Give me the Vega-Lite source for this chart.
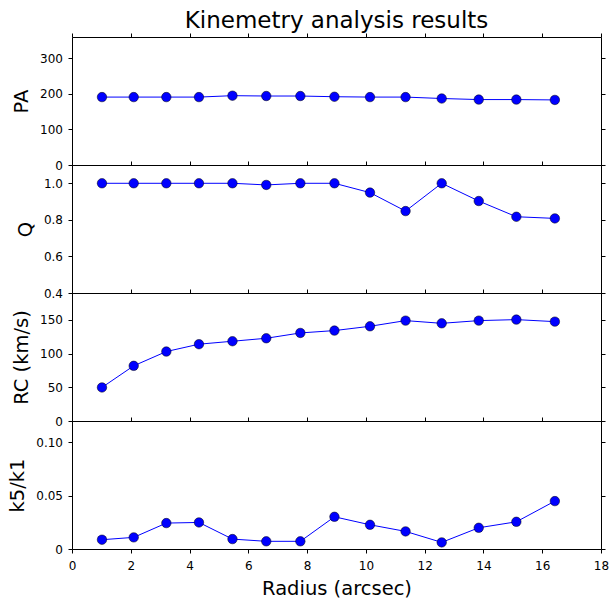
{
  "$schema": "https://vega.github.io/schema/vega-lite/v6.json",
  "padding": {"left": 7, "top": 9, "right": 5, "bottom": 5},
  "data": {
    "values": [
      {"r": 1.02, "pa": 191, "q": 1.0, "rc": 49.8, "k": 0.0087},
      {"r": 2.10, "pa": 191, "q": 1.0, "rc": 81.9, "k": 0.0109},
      {"r": 3.21, "pa": 191, "q": 1.0, "rc": 103.1, "k": 0.0243},
      {"r": 4.32, "pa": 191, "q": 1.0, "rc": 114.0, "k": 0.0249},
      {"r": 5.46, "pa": 195, "q": 1.0, "rc": 118.4, "k": 0.0093},
      {"r": 6.61, "pa": 194, "q": 0.991, "rc": 122.8, "k": 0.0072},
      {"r": 7.77, "pa": 194, "q": 1.0, "rc": 130.7, "k": 0.0072},
      {"r": 8.93, "pa": 192, "q": 1.0, "rc": 134.2, "k": 0.0302},
      {"r": 10.14, "pa": 191, "q": 0.949, "rc": 140.6, "k": 0.0227},
      {"r": 11.35, "pa": 191, "q": 0.848, "rc": 149.0, "k": 0.0165},
      {"r": 12.58, "pa": 187, "q": 1.0, "rc": 145.0, "k": 0.0062},
      {"r": 13.84, "pa": 184, "q": 0.903, "rc": 149.0, "k": 0.0199},
      {"r": 15.12, "pa": 184, "q": 0.817, "rc": 150.5, "k": 0.0255},
      {"r": 16.43, "pa": 183, "q": 0.808, "rc": 147.5, "k": 0.0449}
    ]
  },
  "spacing": 0,
  "bounds": "flush",
  "vconcat": [
    {
      "title": {"text": "Kinemetry analysis results", "fontSize": 23, "offset": 0},
      "width": 529,
      "height": 128,
      "layer": [
        {
          "mark": {"type": "line", "color": "#0000ff", "strokeWidth": 1},
          "encoding": {
            "x": {"field": "r", "type": "quantitative", "scale": {"domain": [0, 18], "nice": false},
                  "axis": {"orient": "top", "labels": false, "title": null, "values": [0, 2, 4, 6, 8, 10, 12, 14, 16, 18]}},
            "y": {"field": "pa", "type": "quantitative", "scale": {"domain": [0, 360], "nice": false},
                  "axis": {"orient": "left", "title": "PA", "values": [0, 100, 200, 300]}}
          }
        },
        {
          "mark": {"type": "point", "filled": true, "size": 90, "fill": "#0000ff", "stroke": "#000000", "strokeWidth": 0.5, "opacity": 1},
          "encoding": {
            "x": {"field": "r", "type": "quantitative", "axis": null},
            "y": {"field": "pa", "type": "quantitative",
                  "axis": {"orient": "right", "labels": false, "title": null, "values": [0, 100, 200, 300]}}
          }
        }
      ],
      "resolve": {"axis": {"x": "independent", "y": "independent"}}
    },
    {
      "width": 529,
      "height": 128,
      "layer": [
        {
          "mark": {"type": "line", "color": "#0000ff", "strokeWidth": 1},
          "encoding": {
            "x": {"field": "r", "type": "quantitative", "scale": {"domain": [0, 18], "nice": false},
                  "axis": {"orient": "top", "labels": false, "title": null, "values": [0, 2, 4, 6, 8, 10, 12, 14, 16, 18]}},
            "y": {"field": "q", "type": "quantitative", "scale": {"domain": [0.4, 1.1], "nice": false, "zero": false},
                  "axis": {"orient": "left", "title": "Q", "values": [0.4, 0.6, 0.8, 1.0], "format": ".1f"}}
          }
        },
        {
          "mark": {"type": "point", "filled": true, "size": 90, "fill": "#0000ff", "stroke": "#000000", "strokeWidth": 0.5, "opacity": 1},
          "encoding": {
            "x": {"field": "r", "type": "quantitative", "axis": null},
            "y": {"field": "q", "type": "quantitative",
                  "axis": {"orient": "right", "labels": false, "title": null, "values": [0.4, 0.6, 0.8, 1.0]}}
          }
        }
      ],
      "resolve": {"axis": {"x": "independent", "y": "independent"}}
    },
    {
      "width": 529,
      "height": 128,
      "layer": [
        {
          "mark": {"type": "line", "color": "#0000ff", "strokeWidth": 1},
          "encoding": {
            "x": {"field": "r", "type": "quantitative", "scale": {"domain": [0, 18], "nice": false},
                  "axis": {"orient": "top", "labels": false, "title": null, "values": [0, 2, 4, 6, 8, 10, 12, 14, 16, 18]}},
            "y": {"field": "rc", "type": "quantitative", "scale": {"domain": [0, 190], "nice": false},
                  "axis": {"orient": "left", "title": "RC (km/s)", "values": [0, 50, 100, 150]}}
          }
        },
        {
          "mark": {"type": "point", "filled": true, "size": 90, "fill": "#0000ff", "stroke": "#000000", "strokeWidth": 0.5, "opacity": 1},
          "encoding": {
            "x": {"field": "r", "type": "quantitative", "axis": null},
            "y": {"field": "rc", "type": "quantitative",
                  "axis": {"orient": "right", "labels": false, "title": null, "values": [0, 50, 100, 150]}}
          }
        }
      ],
      "resolve": {"axis": {"x": "independent", "y": "independent"}}
    },
    {
      "width": 529,
      "height": 128,
      "layer": [
        {
          "mark": {"type": "line", "color": "#0000ff", "strokeWidth": 1},
          "encoding": {
            "x": {"field": "r", "type": "quantitative", "scale": {"domain": [0, 18], "nice": false},
                  "axis": {"orient": "top", "labels": false, "title": null, "values": [0, 2, 4, 6, 8, 10, 12, 14, 16, 18]}},
            "y": {"field": "k", "type": "quantitative", "scale": {"domain": [0, 0.12], "nice": false},
                  "axis": {"orient": "left", "title": "k5/k1", "values": [0, 0.05, 0.1],
                           "labelExpr": "datum.value == 0 ? '0' : format(datum.value, '.2f')"}}
          }
        },
        {
          "mark": {"type": "point", "filled": true, "size": 90, "fill": "#0000ff", "stroke": "#000000", "strokeWidth": 0.5, "opacity": 1},
          "encoding": {
            "x": {"field": "r", "type": "quantitative",
                  "axis": {"orient": "bottom", "title": "Radius (arcsec)", "values": [0, 2, 4, 6, 8, 10, 12, 14, 16, 18], "labelFlush": false, "labelPadding": 7}},
            "y": {"field": "k", "type": "quantitative",
                  "axis": {"orient": "right", "labels": false, "title": null, "values": [0, 0.05, 0.1]}}
          }
        }
      ],
      "resolve": {"axis": {"x": "independent", "y": "independent"}}
    }
  ],
  "config": {
    "font": "DejaVu Sans",
    "view": {"stroke": "#000000", "strokeWidth": 1},
    "title": {"font": "DejaVu Sans", "fontWeight": "normal", "color": "#000000", "anchor": "middle"},
    "axis": {
      "domain": false,
      "grid": false,
      "tickSize": 4,
      "tickColor": "#000000",
      "labelFont": "DejaVu Sans",
      "labelFontSize": 12,
      "labelColor": "#000000",
      "labelPadding": 5.5,
      "titleFont": "DejaVu Sans",
      "titleFontSize": 19.5,
      "titleFontWeight": "normal",
      "titleColor": "#000000",
      "titlePadding": 8
    }
  }
}
